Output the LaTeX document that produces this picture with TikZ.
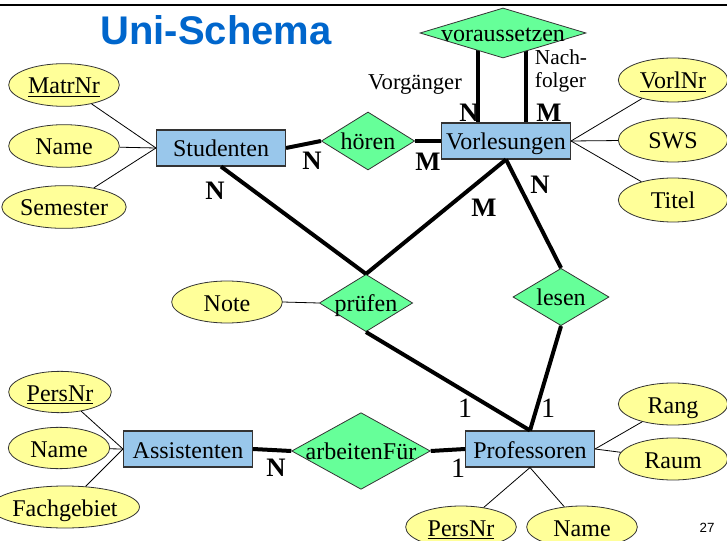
\documentclass[tikz,border=0pt]{standalone}
\usepackage{fontspec}
\setmainfont{Liberation Serif}
\newfontfamily\headfont{Liberation Sans}
\usepackage{tikz}
\usetikzlibrary{shapes.geometric,calc,backgrounds}
\usepackage{xcolor}

\definecolor{entblue}{RGB}{153,199,235}
\definecolor{relgreen}{RGB}{102,255,153}
\definecolor{attyellow}{RGB}{255,255,153}
\definecolor{headblue}{RGB}{0,102,204}

\newcommand{\zw}[1]{\makebox[0pt]{#1}}

\begin{document}
\begin{tikzpicture}[x=0.75pt, y=-0.75pt,
		font=\fontsize{18}{20}\selectfont,
		entity/.style={rectangle, draw=black!80, fill=entblue, line width=0.8pt,
			inner sep=0pt, minimum width=96.75pt, minimum height=27pt,
			text height=13.5pt, text depth=0pt},
		attr/.style={ellipse, draw=black!80, fill=attyellow, line width=0.6pt,
			inner sep=0pt, minimum width=83pt, minimum height=32pt,
			text height=13.5pt, text depth=0pt},
		rel/.style={diamond, draw=black!80, fill=relgreen, line width=0.6pt, inner sep=0pt,
			text height=12.5pt, text depth=0pt},
		rline/.style={line width=3pt},
		aline/.style={line width=0.6pt},
		card/.style={font=\fontsize{20}{24}\selectfont\bfseries},
		one/.style={font=\fontsize{21}{24}\selectfont}]

		% === page frame ===
		\useasboundingbox (0,0) rectangle (727,541);
		\draw[line width=2pt] (0,5) -- (727,5);
		\node[anchor=base, text=headblue, font=\headfont\fontsize{30}{32}\selectfont\bfseries]
			(title) at (216,45) {Uni-Schema};
		\node[font=\headfont\fontsize{10}{12}\selectfont] (pagenr) at (707,528) {27};

		% === Entities ===
		\node[entity] (stud) at (221,148) {Studenten};
		\node[entity] (vorl) at (506,141) {Vorlesungen};
		\node[entity] (assi) at (188,449) {Assistenten};
		\node[entity] (prof) at (530,449) {Professoren};

		% === Relationships ===
		\node[rel, minimum width=70pt, minimum height=43.5pt]  (hoeren)  at (368,141) {\zw{hören}};
		\node[rel, minimum width=124.5pt, minimum height=37.5pt] (vorauss) at (503,33) {\zw{voraussetzen}};
		\node[rel, minimum width=70pt, minimum height=43pt]    (pruefen) at (366,303) {\zw{prüfen}};
		\node[rel, minimum width=72pt, minimum height=43pt]    (lesen)   at (561,297) {\zw{lesen}};
		\node[rel, minimum width=104pt, minimum height=57.5pt] (arbeit)  at (361,451) {\zw{arbeitenFür}};

		% === Attributes ===
		\node[attr] (matrnr)   at (64,85)  {\underline{MatrNr}};
		\node[attr] (sname)    at (64,146) {Name};
		\node[attr] (semester) at (64,207) {Semester};
		\node[attr, minimum width=82pt, minimum height=33pt] (vorlnr) at (673,80)  {\underline{VorlNr}};
		\node[attr, minimum width=82pt, minimum height=33pt] (sws)    at (673,140) {SWS};
		\node[attr, minimum width=82pt, minimum height=33pt] (titel)  at (673,200) {Titel};
		\node[attr, minimum height=31.5pt] (note) at (227,302) {Note};
		\node[attr, minimum width=82pt, minimum height=31.5pt] (rang) at (673,404) {Rang};
		\node[attr, minimum width=82pt, minimum height=31.5pt] (raum) at (673,459) {Raum};
		\node[attr, minimum width=77pt, minimum height=31pt] (apersnr) at (60,392) {\underline{PersNr}};
		\node[attr, minimum width=76pt, minimum height=31pt] (aname)   at (59,448) {Name};
		\node[attr, minimum height=31.5pt] (fach)    at (65,507) {Fachgebiet};
		\node[attr, minimum height=31.5pt] (ppersnr) at (461,527) {\underline{PersNr}};
		\node[attr, minimum height=31.5pt] (pname)   at (582,527) {Name};

		% === Connectors ===
		\begin{pgfonlayer}{background}
			\draw[rline] (stud.east) -- (hoeren.west);
			\draw[rline] (hoeren.east) -- (vorl.west);
			\draw[rline] ($(vorl.north)+(-28,0)$) -- ($(vorauss.center)+(-25,0)$);
			\draw[rline] ($(vorl.north)+(20,0)$) -- ($(vorauss.center)+(23,0)$);
		\end{pgfonlayer}
		\draw[rline] (stud.south) -- (pruefen.north);
		\draw[rline] (vorl.south) -- (pruefen.north);
		\draw[rline] (vorl.south) -- (lesen.north);
		\draw[rline] (pruefen.south) -- (prof.north);
		\draw[rline] (lesen.south) -- (prof.north);
		\draw[rline] (assi.east) -- (arbeit.west);
		\draw[rline] (arbeit.east) -- (prof.west);

		\foreach \a in {matrnr, sname, semester}
			\draw[aline] (stud.west) -- (\a);
		\foreach \a in {vorlnr, sws, titel}
			\draw[aline] (vorl.east) -- (\a);
		\foreach \a in {apersnr, aname, fach}
			\draw[aline] (assi.west) -- (\a);
		\foreach \a in {rang, raum}
			\draw[aline] (prof.east) -- (\a);
		\foreach \a in {ppersnr, pname}
			\draw[aline] (prof.south) -- (\a);
		\draw[aline] (note.east) -- (pruefen.west);

		% === Role names and cardinalities ===
		\node[font=\fontsize{17}{19}\selectfont] (vorg) at (415,85) {Vorgänger};
		\node[font=\fontsize{16}{17.5}\selectfont, align=left] (nachf) at (561,71) {Nach-\\folger};
		\node[card] (c1) at (312,161) {N};
		\node[card] (c2) at (428,162) {M};
		\node[card] (c3) at (215,191) {N};
		\node[card] (c4) at (469,113) {N};
		\node[card] (c5) at (549,113) {M};
		\node[card] (c6) at (484,208) {M};
		\node[card] (c7) at (540,185) {N};
		\node[card] (c8) at (276,468) {N};
		\node[one]  (c9) at (465,408) {1};
		\node[one]  (c10) at (548,408) {1};
		\node[one]  (c11) at (458,468) {1};
\end{tikzpicture}
\end{document}
